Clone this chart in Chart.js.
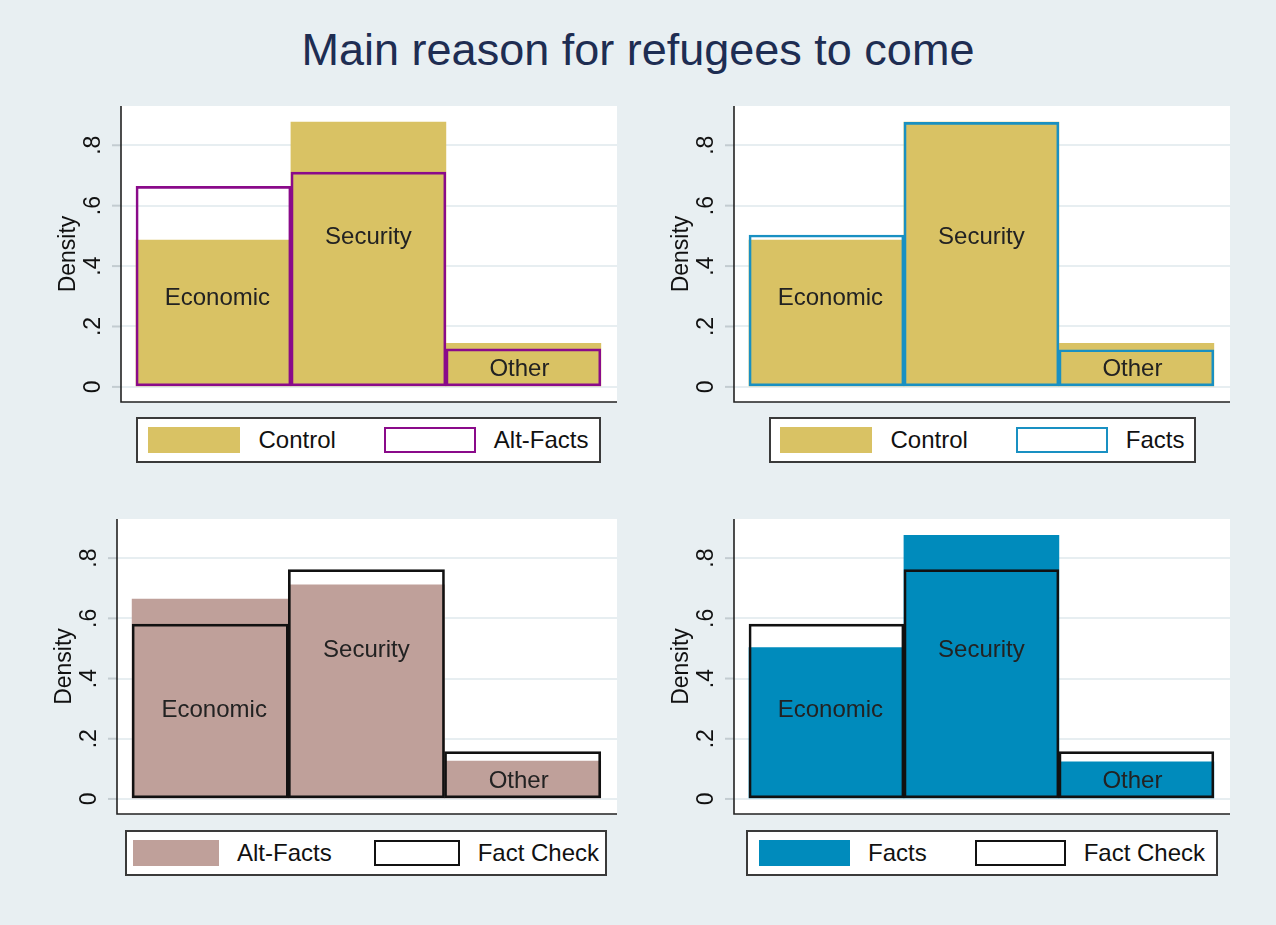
<!DOCTYPE html>
<html>
<head>
<meta charset="utf-8">
<title>Main reason for refugees to come</title>
<script src="https://cdn.jsdelivr.net/npm/chart.js@4.4.1/dist/chart.umd.min.js"></script>
<style>
  html, body { margin: 0; padding: 0; }
  body {
    width: 1276px; height: 925px; position: relative; overflow: hidden;
    background: #e8eff2;
    font-family: "Liberation Sans", Arial, Helvetica, sans-serif;
  }
  canvas { position: absolute; left: 0; top: 0; }
  #title {
    position: absolute; left: 0; top: 25px; width: 1276px;
    text-align: center; font-size: 45px; line-height: 1.117; color: #1e2d52;
  }
  .legend {
    position: absolute; box-sizing: border-box; height: 46px;
    background: #fff; border: 2px solid #3a3a3a;
    display: flex; align-items: center; justify-content: center;
    font-size: 24px; color: #111; white-space: nowrap;
  }
  .key { display: flex; align-items: center; flex-shrink: 0; }
  .swatch { height: 26px; box-sizing: border-box; margin-right: 18px; flex-shrink: 0; }
</style>
</head>
<body>
<div id="title">Main reason for refugees to come</div>

<script>
// ===========================
// Données
// ===========================
const categories = ["Economic", "Security", "Other"];
const binCenters = [1.333, 2, 2.667];

const control   = [0.486, 0.877, 0.144];
const altFacts  = [0.664, 0.711, 0.126];
const facts     = [0.503, 0.876, 0.123];
const factCheck = [0.581, 0.762, 0.157];

const yTicks = [0, 0.2, 0.4, 0.6, 0.8];
const yTickLabels = ["0", ".2", ".4", ".6", ".8"];

// where the category names sit (data coordinates)
const labelX = [1.35, 2, 2.65];
const labelY = [0.3, 0.5, 0.065];

// ===========================
// Mise en page
// ===========================
const W = 1276, H = 925;
const FONT = '"Liberation Sans", Arial, Helvetica, sans-serif';

const SAND = "#d9c264";
const PURPLE = "#8a0a8a";
const BLUE = "#008bbc";
const ROSE = "#bfa09a";

const panels = [
    {
        area: { left: 121, top: 106, right: 617, bottom: 402 },
        fill: { label: "Control", data: control, color: SAND },
        line: { label: "Alt-Facts", data: altFacts, color: PURPLE },
        legend: { left: 136, top: 417, width: 465, swatch: 92, gap: 48 }
    },
    {
        area: { left: 734, top: 106, right: 1230, bottom: 402 },
        fill: { label: "Control", data: control, color: SAND },
        line: { label: "Facts", data: facts, color: "#1990c2" },
        legend: { left: 769, top: 417, width: 427, swatch: 92, gap: 48 }
    },
    {
        area: { left: 117, top: 519, right: 617, bottom: 814 },
        fill: { label: "Alt-Facts", data: altFacts, color: ROSE },
        line: { label: "Fact Check", data: factCheck, color: "#111111" },
        legend: { left: 125, top: 830, width: 482, swatch: 86, gap: 42 }
    },
    {
        area: { left: 734, top: 519, right: 1230, bottom: 814 },
        fill: { label: "Facts", data: facts, color: BLUE },
        line: { label: "Fact Check", data: factCheck, color: "#111111" },
        legend: { left: 746, top: 830, width: 472, swatch: 91, gap: 48 }
    }
];

// ===========================
// Plugin : fond, axes, étiquettes
// ===========================
const panelPlugin = {
    id: "panelDecor",
    beforeDraw(chart) {
        const { ctx, chartArea: a } = chart;
        ctx.save();
        ctx.fillStyle = "#ffffff";
        ctx.fillRect(a.left, a.top, a.right - a.left, a.bottom - a.top);
        ctx.restore();
    },
    afterDatasetsDraw(chart) {
        const { ctx, scales } = chart;
        ctx.save();
        ctx.fillStyle = "#222222";
        ctx.font = "24px " + FONT;
        ctx.textAlign = "center";
        ctx.textBaseline = "alphabetic";
        categories.forEach(function (name, i) {
            // baseline placed so the capitals are centred on the point
            ctx.fillText(name, scales.x.getPixelForValue(labelX[i]), scales.y.getPixelForValue(labelY[i]) + 8.5);
        });
        ctx.restore();
    },
    afterDraw(chart) {
        const { ctx, chartArea: a, scales } = chart;
        ctx.save();

        // petits traits de graduation
        ctx.strokeStyle = "#c3ccd1";
        ctx.lineWidth = 2;
        yTicks.forEach(function (v) {
            const y = scales.y.getPixelForValue(v);
            ctx.beginPath();
            ctx.moveTo(a.left - 9, y);
            ctx.lineTo(a.left, y);
            ctx.stroke();
        });

        // axes
        ctx.strokeStyle = "#222222";
        ctx.lineWidth = 1.6;
        ctx.beginPath();
        ctx.moveTo(a.left, a.top);
        ctx.lineTo(a.left, a.bottom);
        ctx.lineTo(a.right, a.bottom);
        ctx.stroke();

        // étiquettes verticales
        ctx.fillStyle = "#111111";
        ctx.font = "23px " + FONT;
        ctx.textAlign = "center";
        ctx.textBaseline = "middle";
        yTicks.forEach(function (v, i) {
            ctx.save();
            ctx.translate(a.left - 27, scales.y.getPixelForValue(v));
            ctx.rotate(-Math.PI / 2);
            ctx.fillText(yTickLabels[i], 0, 0);
            ctx.restore();
        });

        ctx.save();
        ctx.translate(a.left - 52, (a.top + a.bottom) / 2);
        ctx.rotate(-Math.PI / 2);
        ctx.fillText("Density", 0, 0);
        ctx.restore();

        ctx.restore();
    }
};

// ===========================
// Graphiques
// ===========================
panels.forEach(function (p) {
    const canvas = document.createElement("canvas");
    canvas.width = W;
    canvas.height = H;
    document.body.appendChild(canvas);

    const toPoints = arr => binCenters.map((x, i) => ({ x: x, y: arr[i] }));

    new Chart(canvas.getContext("2d"), {
        type: "bar",
        data: {
            datasets: [
                {
                    label: p.line.label,
                    data: toPoints(p.line.data),
                    backgroundColor: "rgba(0,0,0,0)",
                    borderColor: p.line.color,
                    borderWidth: 2,
                    borderSkipped: false,
                    grouped: false,
                    barPercentage: 1,
                    categoryPercentage: 1,
                    order: 1
                },
                {
                    label: p.fill.label,
                    data: toPoints(p.fill.data),
                    backgroundColor: p.fill.color,
                    borderWidth: 0,
                    grouped: false,
                    barPercentage: 1,
                    categoryPercentage: 1,
                    order: 2
                }
            ]
        },
        options: {
            responsive: false,
            animation: false,
            events: [],
            layout: {
                padding: {
                    left: p.area.left,
                    top: p.area.top,
                    right: W - p.area.right,
                    bottom: H - p.area.bottom
                }
            },
            scales: {
                x: {
                    type: "linear",
                    min: 0.935,
                    max: 3.07,
                    offset: false,
                    display: false,
                    afterBuildTicks: s => { s.ticks = binCenters.map(v => ({ value: v })); }
                },
                y: {
                    min: -0.05,
                    max: 0.93,
                    ticks: { display: false },
                    border: { display: false },
                    grid: { color: "#e7eef1", lineWidth: 2, drawTicks: false },
                    afterBuildTicks: s => { s.ticks = yTicks.map(v => ({ value: v })); }
                }
            },
            plugins: {
                legend: { display: false },
                tooltip: { enabled: false }
            }
        },
        plugins: [panelPlugin]
    });

    // légende encadrée
    const lg = document.createElement("div");
    lg.className = "legend";
    lg.style.left = p.legend.left + "px";
    lg.style.top = p.legend.top + "px";
    lg.style.width = p.legend.width + "px";

    [
        { label: p.fill.label, bg: p.fill.color, border: "none" },
        { label: p.line.label, bg: "#ffffff", border: "2px solid " + p.line.color }
    ].forEach(function (k, i) {
        const key = document.createElement("div");
        key.className = "key";
        if (i > 0) key.style.marginLeft = p.legend.gap + "px";
        const sw = document.createElement("div");
        sw.className = "swatch";
        sw.style.width = p.legend.swatch + "px";
        sw.style.background = k.bg;
        sw.style.border = k.border;
        const txt = document.createElement("span");
        txt.textContent = k.label;
        key.appendChild(sw);
        key.appendChild(txt);
        lg.appendChild(key);
    });
    document.body.appendChild(lg);
});
</script>
</body>
</html>
